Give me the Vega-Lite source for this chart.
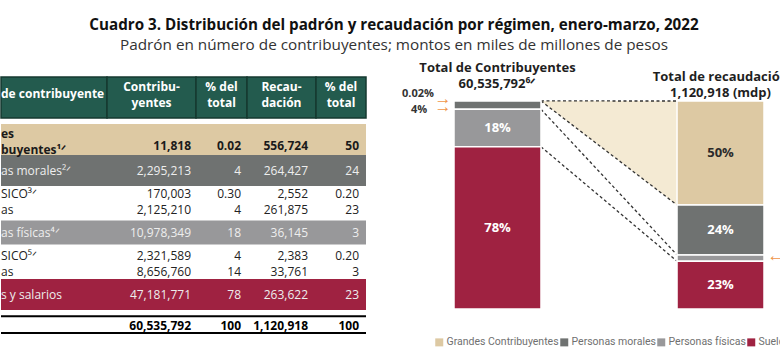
{
  "$schema": "https://vega.github.io/schema/vega-lite/v6.json",
  "padding": {"left": 0, "right": 0, "top": 17, "bottom": 0},
  "background": "white",
  "config": {"font": "Open Sans", "view": {"stroke": null}},
  "title": {
    "text": "Cuadro 3. Distribución del padrón y recaudación por régimen, enero-marzo, 2022",
    "subtitle": "Padrón en número de contribuyentes; montos en miles de millones de pesos",
    "anchor": "middle", "font": "Open Sans", "fontSize": 15.2, "fontWeight": "bold", "color": "#111111", "dx": -28,
    "subtitleFont": "Open Sans", "subtitleFontSize": 15.3, "subtitleColor": "#333333", "subtitlePadding": 5, "offset": 5
  },
  "resolve": {"scale": {"color": "independent"}, "legend": {"color": "independent"}},
  "datasets": {
    "encabezado": [
      {"col": "lbl", "texto": "de contribuyente"},
      {"col": "c", "texto": ["Contribu-", "yentes"]},
      {"col": "p1", "texto": ["% del", "total"]},
      {"col": "r", "texto": ["Recau-", "dación"]},
      {"col": "p2", "texto": ["% del", "total"]}
    ],
    "tabla": [
      {"fila": "G", "etiqueta": ["es", "buyentes¹ᐟ"], "contrib": "11,818", "pct_c": "0.02", "recaud": "556,724", "pct_r": "50"},
      {"fila": "M", "etiqueta": "as morales²ᐟ", "contrib": "2,295,213", "pct_c": "4", "recaud": "264,427", "pct_r": "24"},
      {"fila": "Ms", "etiqueta": ["SICO³ᐟ", "as"], "contrib": ["170,003", "2,125,210"], "pct_c": ["0.30", "4"], "recaud": ["2,552", "261,875"], "pct_r": ["0.20", "23"]},
      {"fila": "F", "etiqueta": "as físicas⁴ᐟ", "contrib": "10,978,349", "pct_c": "18", "recaud": "36,145", "pct_r": "3"},
      {"fila": "Fs", "etiqueta": ["SICO⁵ᐟ", "as"], "contrib": ["2,321,589", "8,656,760"], "pct_c": ["4", "14"], "recaud": ["2,383", "33,761"], "pct_r": ["0.20", "3"]},
      {"fila": "S", "etiqueta": "s y salarios", "contrib": "47,181,771", "pct_c": "78", "recaud": "263,622", "pct_r": "23"},
      {"fila": "T", "etiqueta": "", "contrib": "60,535,792", "pct_c": "100", "recaud": "1,120,918", "pct_r": "100"}
    ],
    "regimen": [
      {"barra": "Contribuyentes", "tipo": "Grandes Contribuyentes", "orden": 4, "share": 0.0002},
      {"barra": "Contribuyentes", "tipo": "Personas morales", "orden": 3, "share": 0.04},
      {"barra": "Contribuyentes", "tipo": "Personas físicas", "orden": 2, "share": 0.18},
      {"barra": "Contribuyentes", "tipo": "Sueldos y salarios", "orden": 1, "share": 0.78},
      {"barra": "Recaudación", "tipo": "Grandes Contribuyentes", "orden": 4, "share": 0.50},
      {"barra": "Recaudación", "tipo": "Personas morales", "orden": 3, "share": 0.24},
      {"barra": "Recaudación", "tipo": "Personas físicas", "orden": 2, "share": 0.03},
      {"barra": "Recaudación", "tipo": "Sueldos y salarios", "orden": 1, "share": 0.23}
    ],
    "titulos": [
      {"barra": "Contribuyentes", "titulo": ["Total de Contribuyentes", "60,535,792⁶ᐟ"]},
      {"barra": "Recaudación", "titulo": ["Total de recaudación", "1,120,918 (mdp)"]}
    ]
  },
  "spacing": 0,
  "hconcat": [
    {
      "spacing": 5,
      "vconcat": [
        {"width": 365, "height": 13, "data": {"values": [{"v": 1}]}, "mark": {"type": "rect", "opacity": 0}, "encoding": {}},
        {
          "bounds": "flush",
          "spacing": 0,
          "hconcat": [
            {"width": 106, "height": 41, "data": {"name": "encabezado"}, "transform": [{"filter": "datum.col == 'lbl'"}],
             "layer": [
               {"mark": {"type": "rect", "fill": "#235b4e", "stroke": "#163a30", "strokeWidth": 1.5}, "encoding": {}},
               {"mark": {"type": "text", "align": "left", "color": "#ffffff", "fontWeight": "bold", "fontSize": 12, "dy": -3.5},
                "encoding": {"x": {"datum": 0, "type": "quantitative", "scale": {"domain": [0, 1]}, "axis": null}, "text": {"field": "texto", "type": "nominal"}}}
             ]},
            {"width": 89, "height": 41, "data": {"name": "encabezado"}, "transform": [{"filter": "datum.col == 'c'"}],
             "layer": [
               {"mark": {"type": "rect", "fill": "#235b4e", "stroke": "#163a30", "strokeWidth": 1.5}, "encoding": {}},
               {"mark": {"type": "text", "color": "#ffffff", "fontWeight": "bold", "fontSize": 12, "lineHeight": 16, "dy": -11},
                "encoding": {"text": {"field": "texto", "type": "nominal"}}}
             ]},
            {"width": 51, "height": 41, "data": {"name": "encabezado"}, "transform": [{"filter": "datum.col == 'p1'"}],
             "layer": [
               {"mark": {"type": "rect", "fill": "#235b4e", "stroke": "#163a30", "strokeWidth": 1.5}, "encoding": {}},
               {"mark": {"type": "text", "color": "#ffffff", "fontWeight": "bold", "fontSize": 12, "lineHeight": 16, "dy": -11},
                "encoding": {"text": {"field": "texto", "type": "nominal"}}}
             ]},
            {"width": 69, "height": 41, "data": {"name": "encabezado"}, "transform": [{"filter": "datum.col == 'r'"}],
             "layer": [
               {"mark": {"type": "rect", "fill": "#235b4e", "stroke": "#163a30", "strokeWidth": 1.5}, "encoding": {}},
               {"mark": {"type": "text", "color": "#ffffff", "fontWeight": "bold", "fontSize": 12, "lineHeight": 16, "dy": -11},
                "encoding": {"text": {"field": "texto", "type": "nominal"}}}
             ]},
            {"width": 50, "height": 41, "data": {"name": "encabezado"}, "transform": [{"filter": "datum.col == 'p2'"}],
             "layer": [
               {"mark": {"type": "rect", "fill": "#235b4e", "stroke": "#163a30", "strokeWidth": 1.5}, "encoding": {}},
               {"mark": {"type": "text", "color": "#ffffff", "fontWeight": "bold", "fontSize": 12, "lineHeight": 16, "dy": -11},
                "encoding": {"text": {"field": "texto", "type": "nominal"}}}
             ]}
          ]
        },
        {
          "bounds": "flush",
          "spacing": 0,
          "hconcat": [
            {"width": 106, "height": 217, "data": {"name": "tabla"},
             "encoding": {"y": {"field": "fila", "type": "nominal", "scale": {"domain": ["G", "M", "Ms", "F", "Fs", "S", "T"], "paddingInner": 0, "paddingOuter": 0}, "axis": null}},
             "layer": [
               {"transform": [{"filter": "indexof(['G','M','S'], datum.fila) >= 0"}], "mark": {"type": "rect"},
                "encoding": {"color": {"condition": [{"test": "datum.fila == 'G'", "value": "#ddc9a3"}, {"test": "datum.fila == 'M'", "value": "#6f7271"}], "value": "#9f2241"}}},
               {"transform": [{"filter": "datum.fila == 'F'"}], "mark": {"type": "bar", "height": 24, "color": "#98989a"}},
               {"transform": [{"filter": "datum.fila == 'T'"}], "mark": {"type": "rule", "color": "#000000", "strokeWidth": 2}, "encoding": {"y": {"field": "fila", "type": "nominal", "bandPosition": 0.2}}},
               {"transform": [{"filter": "datum.fila == 'T'"}], "mark": {"type": "rule", "color": "#000000", "strokeWidth": 2}, "encoding": {"y": {"field": "fila", "type": "nominal", "bandPosition": 0.74}}},
               {"transform": [{"filter": "indexof(['M','F','S'], datum.fila) >= 0"}], "mark": {"type": "text", "align": "left", "fontSize": 12, "color": "#eeeeee"},
                "encoding": {"x": {"datum": 0, "type": "quantitative", "scale": {"domain": [0, 1]}, "axis": null}, "text": {"field": "etiqueta", "type": "nominal"}}},
               {"transform": [{"filter": "indexof(['Ms','Fs'], datum.fila) >= 0"}], "mark": {"type": "text", "align": "left", "fontSize": 12, "lineHeight": 16, "dy": -8, "color": "#222222"},
                "encoding": {"x": {"datum": 0, "type": "quantitative", "scale": {"domain": [0, 1]}, "axis": null}, "text": {"field": "etiqueta", "type": "nominal"}}},
               {"transform": [{"filter": "datum.fila == 'G'"}], "mark": {"type": "text", "align": "left", "fontSize": 12, "lineHeight": 15.5, "fontWeight": "bold", "dy": -5.5, "color": "#1a1a1a"},
                "encoding": {"x": {"datum": 0, "type": "quantitative", "scale": {"domain": [0, 1]}, "axis": null}, "text": {"field": "etiqueta", "type": "nominal"}}}
             ]},
            {"width": 89, "height": 217, "data": {"name": "tabla"},
             "encoding": {"y": {"field": "fila", "type": "nominal", "scale": {"domain": ["G", "M", "Ms", "F", "Fs", "S", "T"], "paddingInner": 0, "paddingOuter": 0}, "axis": null}},
             "layer": [
               {"transform": [{"filter": "indexof(['G','M','S'], datum.fila) >= 0"}], "mark": {"type": "rect"},
                "encoding": {"color": {"condition": [{"test": "datum.fila == 'G'", "value": "#ddc9a3"}, {"test": "datum.fila == 'M'", "value": "#6f7271"}], "value": "#9f2241"}}},
               {"transform": [{"filter": "datum.fila == 'F'"}], "mark": {"type": "bar", "height": 24, "color": "#98989a"}},
               {"transform": [{"filter": "datum.fila == 'T'"}], "mark": {"type": "rule", "color": "#000000", "strokeWidth": 2}, "encoding": {"y": {"field": "fila", "type": "nominal", "bandPosition": 0.2}}},
               {"transform": [{"filter": "datum.fila == 'T'"}], "mark": {"type": "rule", "color": "#000000", "strokeWidth": 2}, "encoding": {"y": {"field": "fila", "type": "nominal", "bandPosition": 0.74}}},
               {"transform": [{"filter": "indexof(['M','F','S'], datum.fila) >= 0"}], "mark": {"type": "text", "align": "right", "dx": -5, "fontSize": 12, "color": "#eeeeee"},
                "encoding": {"x": {"datum": 1, "type": "quantitative", "scale": {"domain": [0, 1]}, "axis": null}, "text": {"field": "contrib", "type": "nominal"}}},
               {"transform": [{"filter": "indexof(['Ms','Fs'], datum.fila) >= 0"}], "mark": {"type": "text", "align": "right", "dx": -5, "dy": -8, "fontSize": 12, "lineHeight": 16, "color": "#222222"},
                "encoding": {"x": {"datum": 1, "type": "quantitative", "scale": {"domain": [0, 1]}, "axis": null}, "text": {"field": "contrib", "type": "nominal"}}},
               {"transform": [{"filter": "datum.fila == 'G'"}], "mark": {"type": "text", "align": "right", "dx": -5, "dy": 6, "fontSize": 12, "fontWeight": "bold", "color": "#1a1a1a"},
                "encoding": {"x": {"datum": 1, "type": "quantitative", "scale": {"domain": [0, 1]}, "axis": null}, "text": {"field": "contrib", "type": "nominal"}}},
               {"transform": [{"filter": "datum.fila == 'T'"}], "mark": {"type": "text", "align": "right", "dx": -5, "fontSize": 12, "fontWeight": "bold", "color": "#000000"},
                "encoding": {"x": {"datum": 1, "type": "quantitative", "scale": {"domain": [0, 1]}, "axis": null}, "text": {"field": "contrib", "type": "nominal"}}}
             ]},
            {"width": 51, "height": 217, "data": {"name": "tabla"},
             "encoding": {"y": {"field": "fila", "type": "nominal", "scale": {"domain": ["G", "M", "Ms", "F", "Fs", "S", "T"], "paddingInner": 0, "paddingOuter": 0}, "axis": null}},
             "layer": [
               {"transform": [{"filter": "indexof(['G','M','S'], datum.fila) >= 0"}], "mark": {"type": "rect"},
                "encoding": {"color": {"condition": [{"test": "datum.fila == 'G'", "value": "#ddc9a3"}, {"test": "datum.fila == 'M'", "value": "#6f7271"}], "value": "#9f2241"}}},
               {"transform": [{"filter": "datum.fila == 'F'"}], "mark": {"type": "bar", "height": 24, "color": "#98989a"}},
               {"transform": [{"filter": "datum.fila == 'T'"}], "mark": {"type": "rule", "color": "#000000", "strokeWidth": 2}, "encoding": {"y": {"field": "fila", "type": "nominal", "bandPosition": 0.2}}},
               {"transform": [{"filter": "datum.fila == 'T'"}], "mark": {"type": "rule", "color": "#000000", "strokeWidth": 2}, "encoding": {"y": {"field": "fila", "type": "nominal", "bandPosition": 0.74}}},
               {"transform": [{"filter": "indexof(['M','F','S'], datum.fila) >= 0"}], "mark": {"type": "text", "align": "right", "dx": -6, "fontSize": 12, "color": "#eeeeee"},
                "encoding": {"x": {"datum": 1, "type": "quantitative", "scale": {"domain": [0, 1]}, "axis": null}, "text": {"field": "pct_c", "type": "nominal"}}},
               {"transform": [{"filter": "indexof(['Ms','Fs'], datum.fila) >= 0"}], "mark": {"type": "text", "align": "right", "dx": -6, "dy": -8, "fontSize": 12, "lineHeight": 16, "color": "#222222"},
                "encoding": {"x": {"datum": 1, "type": "quantitative", "scale": {"domain": [0, 1]}, "axis": null}, "text": {"field": "pct_c", "type": "nominal"}}},
               {"transform": [{"filter": "datum.fila == 'G'"}], "mark": {"type": "text", "align": "right", "dx": -6, "dy": 6, "fontSize": 12, "fontWeight": "bold", "color": "#1a1a1a"},
                "encoding": {"x": {"datum": 1, "type": "quantitative", "scale": {"domain": [0, 1]}, "axis": null}, "text": {"field": "pct_c", "type": "nominal"}}},
               {"transform": [{"filter": "datum.fila == 'T'"}], "mark": {"type": "text", "align": "right", "dx": -6, "fontSize": 12, "fontWeight": "bold", "color": "#000000"},
                "encoding": {"x": {"datum": 1, "type": "quantitative", "scale": {"domain": [0, 1]}, "axis": null}, "text": {"field": "pct_c", "type": "nominal"}}}
             ]},
            {"width": 69, "height": 217, "data": {"name": "tabla"},
             "encoding": {"y": {"field": "fila", "type": "nominal", "scale": {"domain": ["G", "M", "Ms", "F", "Fs", "S", "T"], "paddingInner": 0, "paddingOuter": 0}, "axis": null}},
             "layer": [
               {"transform": [{"filter": "indexof(['G','M','S'], datum.fila) >= 0"}], "mark": {"type": "rect"},
                "encoding": {"color": {"condition": [{"test": "datum.fila == 'G'", "value": "#ddc9a3"}, {"test": "datum.fila == 'M'", "value": "#6f7271"}], "value": "#9f2241"}}},
               {"transform": [{"filter": "datum.fila == 'F'"}], "mark": {"type": "bar", "height": 24, "color": "#98989a"}},
               {"transform": [{"filter": "datum.fila == 'T'"}], "mark": {"type": "rule", "color": "#000000", "strokeWidth": 2}, "encoding": {"y": {"field": "fila", "type": "nominal", "bandPosition": 0.2}}},
               {"transform": [{"filter": "datum.fila == 'T'"}], "mark": {"type": "rule", "color": "#000000", "strokeWidth": 2}, "encoding": {"y": {"field": "fila", "type": "nominal", "bandPosition": 0.74}}},
               {"transform": [{"filter": "indexof(['M','F','S'], datum.fila) >= 0"}], "mark": {"type": "text", "align": "right", "dx": -8, "fontSize": 12, "color": "#eeeeee"},
                "encoding": {"x": {"datum": 1, "type": "quantitative", "scale": {"domain": [0, 1]}, "axis": null}, "text": {"field": "recaud", "type": "nominal"}}},
               {"transform": [{"filter": "indexof(['Ms','Fs'], datum.fila) >= 0"}], "mark": {"type": "text", "align": "right", "dx": -8, "dy": -8, "fontSize": 12, "lineHeight": 16, "color": "#222222"},
                "encoding": {"x": {"datum": 1, "type": "quantitative", "scale": {"domain": [0, 1]}, "axis": null}, "text": {"field": "recaud", "type": "nominal"}}},
               {"transform": [{"filter": "datum.fila == 'G'"}], "mark": {"type": "text", "align": "right", "dx": -8, "dy": 6, "fontSize": 12, "fontWeight": "bold", "color": "#1a1a1a"},
                "encoding": {"x": {"datum": 1, "type": "quantitative", "scale": {"domain": [0, 1]}, "axis": null}, "text": {"field": "recaud", "type": "nominal"}}},
               {"transform": [{"filter": "datum.fila == 'T'"}], "mark": {"type": "text", "align": "right", "dx": -8, "fontSize": 12, "fontWeight": "bold", "color": "#000000"},
                "encoding": {"x": {"datum": 1, "type": "quantitative", "scale": {"domain": [0, 1]}, "axis": null}, "text": {"field": "recaud", "type": "nominal"}}}
             ]},
            {"width": 50, "height": 217, "data": {"name": "tabla"},
             "encoding": {"y": {"field": "fila", "type": "nominal", "scale": {"domain": ["G", "M", "Ms", "F", "Fs", "S", "T"], "paddingInner": 0, "paddingOuter": 0}, "axis": null}},
             "layer": [
               {"transform": [{"filter": "indexof(['G','M','S'], datum.fila) >= 0"}], "mark": {"type": "rect"},
                "encoding": {"color": {"condition": [{"test": "datum.fila == 'G'", "value": "#ddc9a3"}, {"test": "datum.fila == 'M'", "value": "#6f7271"}], "value": "#9f2241"}}},
               {"transform": [{"filter": "datum.fila == 'F'"}], "mark": {"type": "bar", "height": 24, "color": "#98989a"}},
               {"transform": [{"filter": "datum.fila == 'T'"}], "mark": {"type": "rule", "color": "#000000", "strokeWidth": 2}, "encoding": {"y": {"field": "fila", "type": "nominal", "bandPosition": 0.2}}},
               {"transform": [{"filter": "datum.fila == 'T'"}], "mark": {"type": "rule", "color": "#000000", "strokeWidth": 2}, "encoding": {"y": {"field": "fila", "type": "nominal", "bandPosition": 0.74}}},
               {"transform": [{"filter": "indexof(['M','F','S'], datum.fila) >= 0"}], "mark": {"type": "text", "align": "right", "dx": -7, "fontSize": 12, "color": "#eeeeee"},
                "encoding": {"x": {"datum": 1, "type": "quantitative", "scale": {"domain": [0, 1]}, "axis": null}, "text": {"field": "pct_r", "type": "nominal"}}},
               {"transform": [{"filter": "indexof(['Ms','Fs'], datum.fila) >= 0"}], "mark": {"type": "text", "align": "right", "dx": -7, "dy": -8, "fontSize": 12, "lineHeight": 16, "color": "#222222"},
                "encoding": {"x": {"datum": 1, "type": "quantitative", "scale": {"domain": [0, 1]}, "axis": null}, "text": {"field": "pct_r", "type": "nominal"}}},
               {"transform": [{"filter": "datum.fila == 'G'"}], "mark": {"type": "text", "align": "right", "dx": -7, "dy": 6, "fontSize": 12, "fontWeight": "bold", "color": "#1a1a1a"},
                "encoding": {"x": {"datum": 1, "type": "quantitative", "scale": {"domain": [0, 1]}, "axis": null}, "text": {"field": "pct_r", "type": "nominal"}}},
               {"transform": [{"filter": "datum.fila == 'T'"}], "mark": {"type": "text", "align": "right", "dx": -7, "fontSize": 12, "fontWeight": "bold", "color": "#000000"},
                "encoding": {"x": {"datum": 1, "type": "quantitative", "scale": {"domain": [0, 1]}, "axis": null}, "text": {"field": "pct_r", "type": "nominal"}}}
             ]}
          ]
        }
      ]
    },
    {
      "width": 415,
      "height": 251,
      "data": {"name": "regimen"},
      "resolve": {"scale": {"xOffset": "independent"}},
      "encoding": {
        "x": {"field": "barra", "type": "nominal", "scale": {"type": "band", "domain": ["Contribuyentes", "Recaudación"], "paddingInner": 0.61, "paddingOuter": 0.2354, "align": 0.8286}, "axis": null},
        "y": {"field": "y1", "type": "quantitative", "scale": {"domain": [0, 1.2067], "nice": false, "zero": true}, "axis": null}
      },
      "layer": [
        {"transform": [{"stack": "share", "groupby": ["barra"], "sort": [{"field": "orden", "order": "ascending"}], "as": ["y0", "y1"]}, {"filter": "datum.tipo == 'Grandes Contribuyentes'"}],
         "mark": {"type": "area", "color": "#f4ead3", "orient": "vertical"},
         "encoding": {
           "x": {"field": "barra", "type": "nominal", "bandPosition": 0},
           "xOffset": {"field": "barra", "type": "nominal", "scale": {"type": "point", "padding": 0, "reverse": true}},
           "y": {"field": "y1", "type": "quantitative"}, "y2": {"field": "y0"}}},
        {"transform": [{"stack": "share", "groupby": ["barra"], "sort": [{"field": "orden", "order": "ascending"}], "as": ["y0", "y1"]}],
         "mark": {"type": "line", "color": "#333333", "strokeDash": [3, 2.5], "strokeWidth": 1.3},
         "encoding": {
           "x": {"field": "barra", "type": "nominal", "bandPosition": 0},
           "xOffset": {"field": "barra", "type": "nominal", "scale": {"type": "point", "padding": 0, "reverse": true}},
           "y": {"field": "y1", "type": "quantitative"},
           "detail": {"field": "tipo", "type": "nominal"}}},
        {"transform": [{"stack": "share", "groupby": ["barra"], "sort": [{"field": "orden", "order": "ascending"}], "as": ["y0", "y1"]}],
         "mark": {"type": "rect", "stroke": "#ffffff", "strokeWidth": 1.5},
         "encoding": {
           "y": {"field": "y1", "type": "quantitative"}, "y2": {"field": "y0"},
           "color": {"field": "tipo", "type": "nominal",
             "scale": {"domain": ["Grandes Contribuyentes", "Personas morales", "Personas físicas", "Sueldos y salarios"], "range": ["#ddc9a3", "#6f7271", "#98989a", "#9f2241"]},
             "legend": {"title": null, "orient": "none", "legendX": 67, "legendY": 279, "direction": "horizontal", "symbolType": "square", "symbolSize": 64, "symbolStrokeWidth": 0,
               "labelFont": "Roboto", "labelFontSize": 10.5, "labelColor": "#707070", "columnPadding": 0, "labelOffset": 2, "padding": 0}}}},
        {"transform": [{"stack": "share", "groupby": ["barra"], "sort": [{"field": "orden", "order": "ascending"}], "as": ["y0", "y1"]},
                       {"filter": "datum.share >= 0.1"},
                       {"fold": ["y0", "y1"], "as": ["extremo", "nivel"]},
                       {"aggregate": [{"op": "mean", "field": "nivel", "as": "medio"}], "groupby": ["barra", "tipo", "share"]}],
         "mark": {"type": "text", "fontSize": 13, "fontWeight": "bold"},
         "encoding": {
           "y": {"field": "medio", "type": "quantitative"},
           "text": {"field": "share", "type": "quantitative", "format": ".0%"},
           "color": {"condition": {"test": "datum.tipo == 'Grandes Contribuyentes'", "value": "#2a2a2a"}, "value": "#ffffff"}}},
        {"transform": [{"stack": "share", "groupby": ["barra"], "sort": [{"field": "orden", "order": "ascending"}], "as": ["y0", "y1"]},
                       {"filter": "datum.barra == 'Contribuyentes' && datum.tipo == 'Grandes Contribuyentes'"}],
         "mark": {"type": "text", "fontSize": 11, "fontWeight": "bold", "color": "#333333", "dx": -36, "dy": -7},
         "encoding": {"x": {"field": "barra", "type": "nominal", "bandPosition": 0}, "y": {"field": "y1", "type": "quantitative"},
           "text": {"field": "share", "type": "quantitative", "format": "~%"}}},
        {"transform": [{"stack": "share", "groupby": ["barra"], "sort": [{"field": "orden", "order": "ascending"}], "as": ["y0", "y1"]},
                       {"filter": "datum.barra == 'Contribuyentes' && datum.tipo == 'Personas morales'"}],
         "mark": {"type": "text", "fontSize": 11, "fontWeight": "bold", "color": "#333333", "dx": -35, "dy": 9},
         "encoding": {"x": {"field": "barra", "type": "nominal", "bandPosition": 0}, "y": {"field": "y1", "type": "quantitative"},
           "text": {"field": "share", "type": "quantitative", "format": "~%"}}},
        {"transform": [{"stack": "share", "groupby": ["barra"], "sort": [{"field": "orden", "order": "ascending"}], "as": ["y0", "y1"]},
                       {"filter": "datum.barra == 'Contribuyentes' && datum.tipo == 'Grandes Contribuyentes'"}],
         "mark": {"type": "text", "text": "→", "fontSize": 17, "fontWeight": "bold", "color": "#f0964a", "dx": -11, "dy": -2},
         "encoding": {"x": {"field": "barra", "type": "nominal", "bandPosition": 0}, "y": {"field": "y1", "type": "quantitative"}}},
        {"transform": [{"stack": "share", "groupby": ["barra"], "sort": [{"field": "orden", "order": "ascending"}], "as": ["y0", "y1"]},
                       {"filter": "datum.barra == 'Contribuyentes' && datum.tipo == 'Personas morales'"}],
         "mark": {"type": "text", "text": "→", "fontSize": 17, "fontWeight": "bold", "color": "#f0964a", "dx": -11, "dy": 6},
         "encoding": {"x": {"field": "barra", "type": "nominal", "bandPosition": 0}, "y": {"field": "y1", "type": "quantitative"}}},
        {"transform": [{"stack": "share", "groupby": ["barra"], "sort": [{"field": "orden", "order": "ascending"}], "as": ["y0", "y1"]},
                       {"filter": "datum.barra == 'Recaudación' && datum.tipo == 'Personas físicas'"}],
         "mark": {"type": "text", "text": "←", "fontSize": 17, "fontWeight": "bold", "color": "#f0964a", "dx": 12, "dy": 1.5},
         "encoding": {"x": {"field": "barra", "type": "nominal", "bandPosition": 1}, "y": {"field": "y1", "type": "quantitative"}}},
        {"transform": [{"stack": "share", "groupby": ["barra"], "sort": [{"field": "orden", "order": "ascending"}], "as": ["y0", "y1"]},
                       {"filter": "datum.barra == 'Contribuyentes' && datum.tipo == 'Grandes Contribuyentes'"},
                       {"lookup": "barra", "from": {"data": {"name": "titulos"}, "key": "barra", "fields": ["titulo"]}}],
         "mark": {"type": "text", "fontSize": 13, "fontWeight": "bold", "lineHeight": 16.5, "color": "#1f1f1f", "dy": -33},
         "encoding": {"y": {"field": "y1", "type": "quantitative"}, "text": {"field": "titulo", "type": "nominal"}}},
        {"transform": [{"stack": "share", "groupby": ["barra"], "sort": [{"field": "orden", "order": "ascending"}], "as": ["y0", "y1"]},
                       {"filter": "datum.barra == 'Recaudación' && datum.tipo == 'Grandes Contribuyentes'"},
                       {"lookup": "barra", "from": {"data": {"name": "titulos"}, "key": "barra", "fields": ["titulo"]}}],
         "mark": {"type": "text", "fontSize": 13, "fontWeight": "bold", "lineHeight": 16.5, "color": "#1f1f1f", "dy": -24, "clip": true},
         "encoding": {"y": {"field": "y1", "type": "quantitative"}, "text": {"field": "titulo", "type": "nominal"}}}
      ]
    }
  ]
}
